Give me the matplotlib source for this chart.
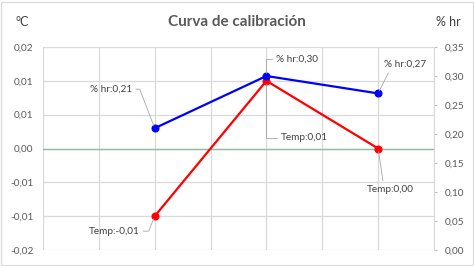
import matplotlib
matplotlib.use("Agg")
import matplotlib.pyplot as plt
import numpy as np
from matplotlib.patches import Rectangle

plt.rcParams['font.family'] = ['Lato', 'DejaVu Sans']

# Data
x_vals = [1, 2, 3]
temp_vals = [-0.01, 0.01, 0.00]
hr_vals = [0.21, 0.30, 0.27]
left_ticks = [-0.015, -0.010, -0.005, 0.0, 0.005, 0.010, 0.015]
left_ticklabels = ['-0,02', '-0,01', '-0,01', '0,00', '0,01', '0,01', '0,02']
right_ticks = [0.00, 0.05, 0.10, 0.15, 0.20, 0.25, 0.30, 0.35]
right_ticklabels = ['0,00', '0,05', '0,10', '0,15', '0,20', '0,25', '0,30', '0,35']
title = "Curva de calibración"

TXT = '#595959'
GRID = '#D9D9D9'

fig = plt.figure(figsize=(4.74, 2.66), dpi=100)
fig.patch.set_facecolor('white')
ax = fig.add_axes([43/474, 1-250/266, 391/474, 203/266])
ax2 = ax.twinx()

# left axis (temperature)
ax.set_xlim(0, 3.5)
ax.set_ylim(-0.015, 0.015)
ax.set_xticks(np.arange(0, 3.51, 0.5))
ax.set_xticklabels([])
ax.tick_params(axis='x', length=0)
ax.set_yticks(left_ticks)
ax.set_yticklabels(left_ticklabels)
ax.tick_params(axis='y', length=0, pad=7, labelsize=7.2, labelcolor=TXT)
ax.grid(True, color=GRID, lw=0.9)
ax.set_axisbelow(True)
for s in ax.spines.values():
    s.set_visible(False)
ax.axhline(0, color='#92B8A6', lw=1.0, zorder=1.5)

ax.plot(x_vals, temp_vals, color='#FF0000', lw=1.6, marker='o', ms=4.8,
        markerfacecolor='#FF0000', markeredgecolor='#FF0000', zorder=3)

# right axis (% hr)
ax2.set_ylim(0, 0.35)
ax2.set_yticks(right_ticks)
ax2.set_yticklabels(right_ticklabels)
ax2.tick_params(axis='y', length=2.5, width=0.8, color='#BFBFBF', pad=5.5,
                labelsize=7.2, labelcolor=TXT)
for k, s in ax2.spines.items():
    s.set_visible(k == 'right')
ax2.spines['right'].set_color('#D9D9D9')
ax2.plot(x_vals, hr_vals, color='#0000FF', lw=1.6, marker='o', ms=4.8,
         markerfacecolor='#0000FF', markeredgecolor='#0000FF', zorder=3)

LC = '#A6A6A6'
LBL = '#404040'

def fmt(v):
    return f"{v:.2f}".replace('.', ',')

def lab(axis, x, y, text, off, relpos, conn):
    axis.annotate(text, xy=(x, y), xytext=off, textcoords='offset points',
                  ha='center', va='center', fontsize=7.2, color=LBL,
                  arrowprops=dict(arrowstyle='-', color=LC, lw=0.6,
                                  shrinkA=1, shrinkB=2, relpos=relpos,
                                  connectionstyle=conn))

hr_offsets = [(-31.7, 28.1), (22.3, 12.2), (19.4, 20.9)]
hr_rel = [(1, 0.5), (0, 0.5), (0.15, 0)]
hr_conn = ["angle,angleA=0,angleB=111,rad=0", "angle,angleA=0,angleB=90,rad=0", "arc3,rad=0"]
for i in range(3):
    lab(ax2, x_vals[i], hr_vals[i], "% hr:" + fmt(hr_vals[i]),
        hr_offsets[i], hr_rel[i], hr_conn[i])

t_offsets = [(-29.5, -10.8), (27.4, -41.0), (8.6, -29.5)]
t_rel = [(1, 0.5), (0, 0.5), (0.36, 1)]
t_conn = ["angle,angleA=0,angleB=68,rad=0", "angle,angleA=0,angleB=90,rad=0", "arc3,rad=0"]
for i in range(3):
    lab(ax, x_vals[i], temp_vals[i], "Temp:" + fmt(temp_vals[i]),
        t_offsets[i], t_rel[i], t_conn[i])

fig.text(0.5, 1-22/266, title, ha='center', va='center', fontsize=11,
         fontweight='bold', color=TXT)
fig.text(22/474, 1-22/266, "°C", ha='center', va='center', fontsize=9, color='#404040')
fig.text(448/474, 1-22/266, "% hr", ha='center', va='center', fontsize=9, color='#404040')

fig.patches.append(Rectangle((0.003, 0.004), 0.994, 0.99, transform=fig.transFigure,
                             fill=False, edgecolor='#D9D9D9', lw=0.8))

fig.savefig('out.png', dpi=100, facecolor='white')
